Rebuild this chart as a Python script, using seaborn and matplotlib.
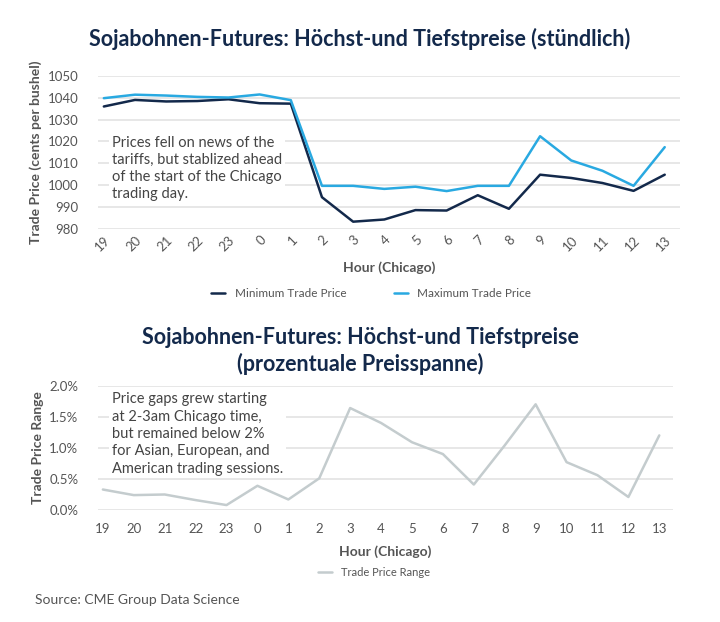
import numpy as np
import pandas as pd
import matplotlib
matplotlib.use("Agg")
import matplotlib.pyplot as plt
from matplotlib.ticker import FuncFormatter
import seaborn as sns

HOURS = ["19", "20", "21", "22", "23", "0", "1", "2", "3", "4",
         "5", "6", "7", "8", "9", "10", "11", "12", "13"]

MIN_PRICE = [1036.0, 1039.0, 1038.3, 1038.5, 1039.3, 1037.5, 1037.3, 994.5, 983.3, 984.3,
             988.6, 988.4, 995.4, 989.2, 1004.8, 1003.3, 1001.0, 997.4, 1004.8]
MAX_PRICE = [1039.8, 1041.4, 1041.0, 1040.4, 1040.1, 1041.5, 1038.9, 999.7, 999.7, 998.3,
             999.3, 997.3, 999.7, 999.7, 1022.4, 1011.3, 1006.6, 999.7, 1017.4]
PRICE_RANGE = [0.33, 0.24, 0.25, 0.16, 0.08, 0.39, 0.17, 0.51, 1.64, 1.40,
               1.09, 0.90, 0.41, 1.04, 1.70, 0.77, 0.56, 0.21, 1.20]

NAVY = "#13294b"
BLUE = "#29a9e1"
GREY_LINE = "#c4ccce"
TEXT = "#555555"
GRID = "#e3e3e3"

sns.set_theme(style="white")
plt.rcParams["font.family"] = ["Lato", "DejaVu Sans"]

pos = np.arange(len(HOURS))
prices = pd.DataFrame({
    "pos": np.concatenate([pos, pos]),
    "price": MIN_PRICE + MAX_PRICE,
    "series": ["Minimum Trade Price"] * len(pos) + ["Maximum Trade Price"] * len(pos),
})
ranges = pd.DataFrame({"pos": pos, "range": PRICE_RANGE, "series": "Trade Price Range"})

fig = plt.figure(figsize=(7.2, 6.22), dpi=100)
ax1 = fig.add_axes([0.136, 0.632, 0.808, 0.246])
ax2 = fig.add_axes([0.136, 0.180, 0.799, 0.200])


def style_axis(ax):
    for s in ax.spines.values():
        s.set_visible(False)
    ax.grid(axis="y", color=GRID, linewidth=1.2)
    ax.grid(axis="x", visible=False)
    ax.set_axisbelow(True)
    ax.tick_params(axis="both", length=0, colors=TEXT, labelsize=9.5)
    ax.tick_params(axis="y", pad=14)


# ── top chart ─────────────────────────────────
sns.lineplot(data=prices, x="pos", y="price", hue="series",
             palette={"Minimum Trade Price": NAVY, "Maximum Trade Price": BLUE},
             linewidth=1.8, ax=ax1)
style_axis(ax1)
ax1.set_xlim(-0.19, 18.48)
ax1.set_ylim(980, 1050)
ax1.set_yticks(np.arange(980, 1051, 10))
ax1.set_xticks(pos)
ax1.set_xticklabels(HOURS, rotation=45, ha="right", rotation_mode="anchor")
ax1.set_xlabel("Hour (Chicago)", fontsize=10, fontweight="bold", color=TEXT, labelpad=6)
ax1.set_ylabel("Trade Price (cents per bushel)", fontsize=10, fontweight="bold", color=TEXT, labelpad=4)
ax1.text(0.25, 1022.3, "Prices fell on news of the\ntariffs, but stablized ahead\n"
         "of the start of the Chicago\ntrading day.",
         fontsize=10.5, color="#444444", va="top", ha="left", linespacing=1.25,
         bbox=dict(facecolor="white", edgecolor="none", pad=2))
ax1.legend(loc="upper center", bbox_to_anchor=(0.47, -0.32), ncol=2, frameon=False,
           fontsize=8.5, labelcolor=TEXT, handlelength=1.2, columnspacing=4)

fig.text(0.5, 0.938, "Sojabohnen-Futures: Höchst-und Tiefstpreise (stündlich)",
         ha="center", va="center", fontsize=15.5, fontweight="bold", color=NAVY)

# ── bottom chart ─────────────────────────────
sns.lineplot(data=ranges, x="pos", y="range", hue="series",
             palette={"Trade Price Range": GREY_LINE}, linewidth=1.8, ax=ax2)
style_axis(ax2)
ax2.tick_params(axis="x", pad=9)
ax2.set_xlim(-0.16, 18.45)
ax2.set_ylim(0, 2.0)
ax2.set_yticks([0, 0.5, 1.0, 1.5, 2.0])
ax2.yaxis.set_major_formatter(FuncFormatter(lambda v, _: f"{v:.1f}%"))
ax2.set_xticks(pos)
ax2.set_xticklabels(HOURS)
ax2.set_xlabel("Hour (Chicago)", fontsize=10, fontweight="bold", color=TEXT, labelpad=8)
ax2.set_ylabel("Trade Price Range", fontsize=10, fontweight="bold", color=TEXT, labelpad=4)
ax2.text(0.3, 1.89, "Price gaps grew starting\nat 2-3am Chicago time,\nbut remained below 2%\n"
         "for Asian, European, and\nAmerican trading sessions.",
         fontsize=10.5, color="#444444", va="top", ha="left", linespacing=1.3,
         bbox=dict(facecolor="white", edgecolor="none", pad=2))
ax2.legend(loc="upper center", bbox_to_anchor=(0.48, -0.38), ncol=1, frameon=False,
           fontsize=8, labelcolor=TEXT, handlelength=1.2)

fig.text(0.5, 0.436, "Sojabohnen-Futures: Höchst-und Tiefstpreise\n(prozentuale Preisspanne)",
         ha="center", va="center", fontsize=15.5, fontweight="bold", color=NAVY, linespacing=1.25)

fig.text(0.049, 0.035, "Source: CME Group Data Science", ha="left", va="center",
         fontsize=10, color=TEXT)

fig.savefig("out.png", dpi=100)
plt.close(fig)
